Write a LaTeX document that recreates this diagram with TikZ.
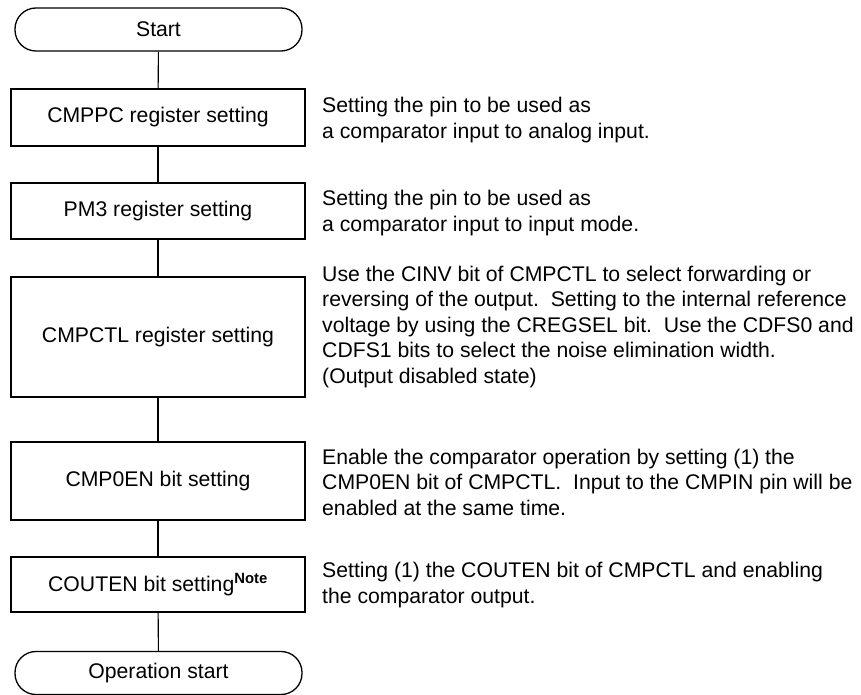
\documentclass[tikz,border=0pt]{standalone}
\usepackage{fontspec}
\setmainfont{Liberation Sans}
\usepackage{tikz}
\usetikzlibrary{positioning,calc}
\tikzset{
  term/.style={draw=black,line width=1.3pt,rounded corners=21pt,minimum width=287pt,minimum height=43pt,inner sep=0pt},
  stepbox/.style={draw=black,line width=1.3pt,minimum width=294pt,inner sep=0pt},
  desc/.style={anchor=west,align=left,inner sep=0pt},
  link/.style={draw=black,line width=1.1pt},
}
\begin{document}
\begin{tikzpicture}[x=1pt,y=-1pt,font=\fontsize{21.2}{25.5}\selectfont]
\useasboundingbox[fill=white] (0,0) rectangle (861,695);
\node[term] (start) at (158.5,29.5) {Start};
\node[stepbox,minimum height=57pt] (cmppc) at (158,117.5) {CMPPC register setting};
\node[stepbox,minimum height=56pt] (pm3) at (158,211) {PM3 register setting};
\node[stepbox,minimum height=120pt] (cmpctl) at (158,337) {CMPCTL register setting};
\node[stepbox,minimum height=78pt] (cmpen) at (158,481) {CMP0EN bit setting};
\node[stepbox,minimum height=55pt] (couten) at (158,584.5) {COUTEN bit setting\textsuperscript{\bfseries Note}};
\node[term] (opstart) at (158.5,673) {Operation start};
\draw[link] (start) -- (cmppc);
\draw[link] (cmppc) -- (pm3);
\draw[link] (pm3) -- (cmpctl);
\draw[link] (cmpctl) -- (cmpen);
\draw[link] (cmpen) -- (couten);
\draw[link] (couten) -- (opstart);
\node[desc] (dcmppc) at (322,120) {Setting the pin to be used as\\a comparator input to analog input.};
\node[desc] (dpm3) at (322,213) {Setting the pin to be used as\\a comparator input to input mode.};
\node[desc] (dcmpctl) at (322,327) {Use the CINV bit of CMPCTL to select forwarding or\\reversing of the output.\ \ Setting to the internal reference\\voltage by using the CREGSEL bit.\ \ Use the CDFS0 and\\CDFS1 bits to select the noise elimination width.\\(Output disabled state)};
\node[desc] (dcmpen) at (322,482) {Enable the comparator operation by setting (1) the\\CMP0EN bit of CMPCTL.\ \ Input to the CMPIN pin will be\\enabled at the same time.};
\node[desc] (dcouten) at (322,585) {Setting (1) the COUTEN bit of CMPCTL and enabling\\the comparator output.};
\end{tikzpicture}
\end{document}
